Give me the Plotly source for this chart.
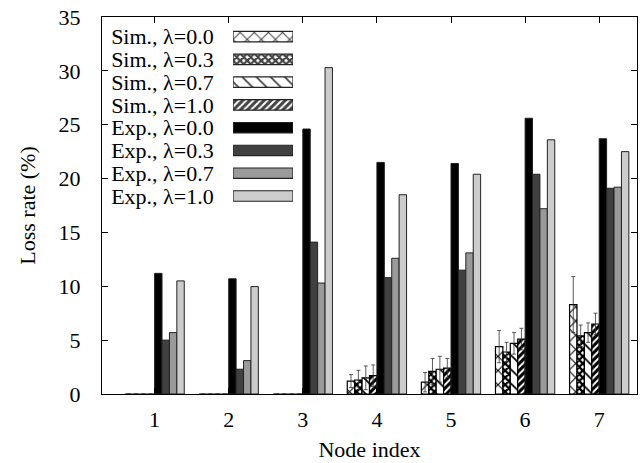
import plotly.graph_objects as go

nodes = [1, 2, 3, 4, 5, 6, 7]

sim_00 = [0, 0, 0, 1.2, 1.1, 4.4, 8.3]
sim_03 = [0, 0, 0, 1.3, 2.1, 3.9, 5.4]
sim_07 = [0, 0, 0, 1.5, 2.3, 4.7, 5.7]
sim_10 = [0, 0, 0, 1.7, 2.4, 5.1, 6.5]
err_00 = [0, 0, 0, 0.6, 0.9, 1.5, 2.6]
err_03 = [0, 0, 0, 0.9, 1.2, 0.9, 1.0]
err_07 = [0, 0, 0, 1.1, 1.2, 1.0, 0.9]
err_10 = [0, 0, 0, 1.0, 0.9, 1.0, 1.0]

exp_00 = [11.2, 10.7, 24.6, 21.5, 21.4, 25.6, 23.7]
exp_03 = [5.0, 2.3, 14.1, 10.8, 11.5, 20.4, 19.1]
exp_07 = [5.7, 3.1, 10.3, 12.6, 13.1, 17.2, 19.2]
exp_10 = [10.5, 9.97, 30.3, 18.5, 20.4, 23.6, 22.5]

names = ["Sim., λ=0.0", "Sim., λ=0.3", "Sim., λ=0.7", "Sim., λ=1.0",
         "Exp., λ=0.0", "Exp., λ=0.3", "Exp., λ=0.7", "Exp., λ=1.0"]

FONT = "Liberation Serif, Times New Roman, serif"
FS = 22

sim_styles = [
    dict(shape="x", size=10, solidity=0.2),
    dict(shape="x", size=5, solidity=0.7),
    dict(shape="\\", size=10, solidity=0.18),
    dict(shape="/", size=5, solidity=0.6),
]
exp_colors = ["#000000", "#404040", "#9a9a9a", "#cccccc"]

fig = go.Figure()

sims = [sim_00, sim_03, sim_07, sim_10]
errs = [err_00, err_03, err_07, err_10]
for i in range(4):
    st = sim_styles[i]
    fig.add_trace(go.Bar(
        x=nodes, y=sims[i], name=names[i],
        marker=dict(color="white",
                    line=dict(color="black", width=1.2),
                    pattern=dict(shape=st["shape"], size=st["size"],
                                 solidity=st["solidity"], fgcolor="black",
                                 fgopacity=1, bgcolor="white",
                                 fillmode="overlay")),
        error_y=dict(type="data", array=errs[i], color="#333333",
                     thickness=0.8, width=2),
        showlegend=False,
    ))

exps = [exp_00, exp_03, exp_07, exp_10]
for i in range(4):
    fig.add_trace(go.Bar(
        x=nodes, y=exps[i], name=names[4 + i],
        marker=dict(color=exp_colors[i], line=dict(color="#222222", width=1)),
        showlegend=False,
    ))

# legend drawn as a small horizontal bar chart on its own axes
leg_colors = ["white"] * 4 + exp_colors
leg_shapes = [s["shape"] for s in sim_styles] + [""] * 4
leg_sizes = [s["size"] for s in sim_styles] + [8] * 4
leg_sol = [s["solidity"] for s in sim_styles] + [0.3] * 4
fig.add_trace(go.Bar(
    y=names, x=[1] * len(names), orientation="h", width=0.46,
    xaxis="x2", yaxis="y2", showlegend=False, hoverinfo="skip",
    marker=dict(color=leg_colors, line=dict(color="#222222", width=1.2),
                pattern=dict(shape=leg_shapes, size=leg_sizes,
                             solidity=leg_sol, fgcolor="black", fgopacity=1,
                             fillmode="overlay")),
))

fig.update_layout(
    width=641, height=463,
    margin=dict(l=102, r=4, t=17, b=69),
    paper_bgcolor="white", plot_bgcolor="white",
    barmode="group", bargap=0.2, bargroupgap=0,
    font=dict(family=FONT, size=FS, color="black"),
    xaxis=dict(range=[0.29, 7.51], tickvals=nodes, ticks="inside",
               ticklen=6, tickcolor="black", showline=True, linecolor="black",
               linewidth=1, mirror="ticks", showgrid=False, zeroline=False,
               ticklabelstandoff=6,
               title=dict(text="Node index", font=dict(size=FS), standoff=10),
               tickfont=dict(size=FS)),
    yaxis=dict(range=[0, 35], dtick=5, ticks="inside", ticklen=6,
               tickcolor="black", showline=True, linecolor="black",
               linewidth=1, mirror="ticks", showgrid=False, zeroline=False,
               ticklabelstandoff=16,
               title=dict(text="Loss rate (%)", font=dict(size=FS), standoff=16),
               tickfont=dict(size=FS)),
    xaxis2=dict(domain=[0.245, 0.357], range=[0, 1], anchor="y2",
                visible=False, fixedrange=True),
    yaxis2=dict(domain=[0.495, 0.978], anchor="x2", autorange="reversed",
                tickmode="array", tickvals=names, ticktext=names,
                showline=False, showgrid=False, zeroline=False,
                ticks="outside", ticklen=14, tickcolor="rgba(0,0,0,0)",
                tickfont=dict(size=FS)),
)

fig.write_html("out.html")
